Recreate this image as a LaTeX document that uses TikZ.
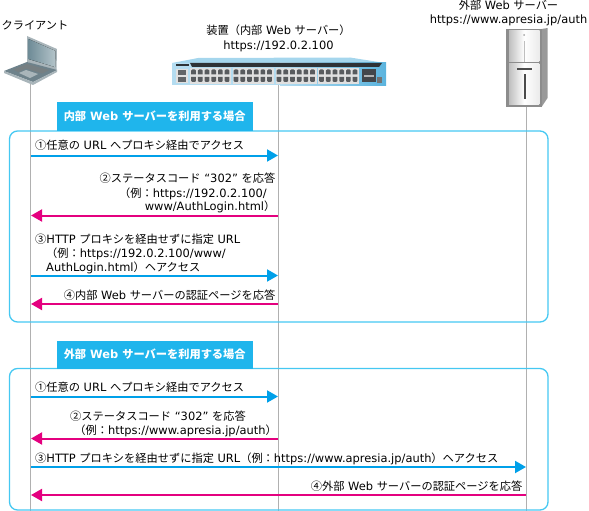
\documentclass[tikz,border=0pt]{standalone}
\usepackage{fontspec}
\setmainfont[Scale=1.04]{DejaVu Sans}
\newfontfamily\jpf[Scale=1.02]{Noto Sans CJK JP}
\newcommand{\J}[1]{{\jpf #1}}
\usetikzlibrary{arrows.meta}
\definecolor{bluearrow}{HTML}{00A0E9}
\definecolor{pinkarrow}{HTML}{E4007F}
\definecolor{framecol}{HTML}{45C8F2}
\definecolor{tagcol}{HTML}{1FB5EC}
\definecolor{lifecol}{HTML}{B0B0B0}
\definecolor{swbody}{HTML}{B4DCF0}
\definecolor{swtop}{HTML}{5BB4DE}
\definecolor{swdark}{HTML}{2E3236}
\definecolor{lapframe}{HTML}{A9B5BA}
\definecolor{lapscreenA}{HTML}{6F8C97}
\definecolor{lapscreenB}{HTML}{B4C4CA}
\definecolor{lapbase}{HTML}{6E828B}
\tikzset{
 txt/.style={inner sep=0pt,font=\fontsize{11}{13}\selectfont,text=black},
 lt/.style={txt,anchor=base west},
 rt/.style={txt,anchor=base east},
 ct/.style={txt,anchor=base},
 tag/.style={fill=tagcol,minimum height=28.5pt,inner sep=0pt,text=white,font=\fontsize{11}{13}\selectfont\bfseries,anchor=north west},
 lifeline/.style={draw=lifecol,line width=1.6pt},
 framebox/.style={draw=framecol,line width=1.3pt,rounded corners=8pt},
 msgb/.style={draw=bluearrow,line width=2pt,-{Triangle[length=11pt,width=12pt]}},
 msgp/.style={draw=pinkarrow,line width=2pt,-{Triangle[length=11pt,width=12pt]}},
}
\begin{document}
\begin{tikzpicture}[x=1pt,y=-1pt]
\useasboundingbox (0,0) rectangle (589,511);
% lifeline ends
\coordinate (cTop) at (30.5,84);
\coordinate (cBot) at (30.5,511);
\coordinate (dTop) at (278.5,85);
\coordinate (dBot) at (278.5,511);
\coordinate (sTop) at (526.5,107);
\coordinate (sBot) at (526.5,511);
\draw[lifeline] (cTop) -- (cBot);
\draw[lifeline] (dTop) -- (dBot);
\draw[lifeline] (sTop) -- (sBot);
% frames
\draw[framebox] (9.5,131) rectangle (548,322);
\draw[framebox] (9.5,368.5) rectangle (548,510);
\node[tag,minimum width=196pt] (tag1) at (56.5,102) {\J{内部} Web \J{サーバーを利用する場合}};
\node[tag,minimum width=196pt,minimum height=28pt] (tag2) at (56.5,340.5) {\J{外部} Web \J{サーバーを利用する場合}};
% laptop
\fill[lapframe] (27,36) -- (57,49) -- (56.5,72) -- (27,62) -- cycle;
\fill[left color=lapscreenA,right color=lapscreenB] (28.5,39) -- (55.5,51) -- (55,67) -- (28.5,59) -- cycle;
\fill[lapbase] (4,71) -- (27,62) -- (57,70) -- (33,82) -- cycle;
\fill[lapframe] (4,71) -- (33,82) -- (57,70) -- (57,72) -- (33,85) -- (4,73) -- cycle;
\fill[lapframe] (19,73) -- (26,70) -- (38,74) -- (30,78) -- cycle;
\fill[lapframe!70!black] (13,69.5) -- (27,64) -- (49,70) -- (42,73.5) -- (26,68.5) -- (18,72) -- cycle;
% switch
\fill[swtop!55!white] (172,63) -- (198,58) -- (350,57.5) -- (385,63) -- cycle;
\fill[swbody] (172,63) rectangle (280,85);
\fill[left color=swbody,right color=swtop] (280,63) rectangle (386,85);
\fill[swdark] (190,63) -- (382,63) -- (379,67) -- (192,67) -- cycle;
\fill[swdark] (176,64.5) rectangle (189,66);
\foreach \gx in {190,232.5,275.5,318}{
  \fill[black!12] (\gx,68.5) rectangle ++(41,15);
  \foreach \i in {0,...,5}{
    \fill[swdark!80] (\gx+1.2+\i*6.7,70.5) -- ++(1.2,-1) -- ++(2.3,0) -- ++(1.2,1) -- ++(0,4) -- ++(-4.7,0) -- cycle;
    \fill[swdark!80] (\gx+1.2+\i*6.7,77) -- ++(4.7,0) -- ++(0,4) -- ++(-1.2,1) -- ++(-2.3,0) -- ++(-1.2,-1) -- cycle;
  }
}
\fill[black!12] (176,69) rectangle (188,83);
\fill[swdark!75] (178,70) rectangle (186,75);
\fill[swdark!75] (178,77) rectangle (186,82);
\fill[swdark!90] (362,69.5) rectangle (376,82.5);
\fill[black!30] (364,75) rectangle (374,77);
\fill[black!55] (377,77) rectangle (382,83);
% server
\fill[black!40] (541.5,29) -- (547.5,28) -- (547.5,98) -- (541.5,107) -- cycle;
\fill[black!45] (506,29) rectangle (541.5,107);
\fill[left color=black!25,right color=black!8,middle color=white] (509,31) rectangle (539.5,62);
\fill[left color=black!25,right color=black!8,middle color=white] (509,63.5) rectangle (539.5,104.5);
\fill[black!35] (524,35) circle (1pt);
\fill[black!25] (523.5,41) rectangle (525,62);
\fill[black!70] (517,68.5) rectangle (532,70.5);
\fill[black!70] (523.5,74) rectangle (525.5,99);
% headers
\node[ct] (client) at (35,29.5) {\J{クライアント}};
\node[ct] (dev1) at (278.5,34.5) {\J{装置（内部} Web \J{サーバー）}};
\node[ct] (dev2) at (278.5,49) {https://192.0.2.100};
\node[ct] (srv1) at (508.5,9.5) {\J{外部} Web \J{サーバー}};
\node[ct] (srv2) at (508.5,23.5) {https://www.apresia.jp/auth};
% upper messages
\coordinate (a1) at (31,155.5); \coordinate (b1) at (278,155.5);
\coordinate (a2) at (31,215.5); \coordinate (b2) at (278,215.5);
\coordinate (a3) at (31,275.5); \coordinate (b3) at (278,275.5);
\coordinate (a4) at (31,304); \coordinate (b4) at (278,304);
\draw[msgb] (a1) -- (b1);
\draw[msgp] (b2) -- (a2);
\draw[msgb] (a3) -- (b3);
\draw[msgp] (b4) -- (a4);
\node[lt] (t1) at (35,149) {\J{①任意の} URL \J{へプロキシ経由でアクセス}};
\node[rt] (t2a) at (275.5,182) {\J{②ステータスコード} “302” \J{を応答}};
\node[rt] (t2b) at (267,197) {\J{（例：}https://192.0.2.100/};
\node[rt] (t2c) at (275.5,210) {www/AuthLogin.html\J{）}};
\node[lt] (t3a) at (35,243) {\J{③}HTTP \J{プロキシを経由せずに指定} URL};
\node[lt] (t3b) at (46,257) {\J{（例：}https://192.0.2.100/www/};
\node[lt] (t3c) at (46,271) {AuthLogin.html\J{）ヘアクセス}};
\node[rt] (t4) at (275.5,299) {\J{④内部} Web \J{サーバーの認証ページを応答}};
% lower messages
\coordinate (a5) at (31,396.5); \coordinate (b5) at (278,396.5);
\coordinate (a6) at (31,438.5); \coordinate (b6) at (278,438.5);
\coordinate (a7) at (31,467); \coordinate (b7) at (526,467);
\coordinate (a8) at (31,495); \coordinate (b8) at (526,495);
\draw[msgb] (a5) -- (b5);
\draw[msgp] (b6) -- (a6);
\draw[msgb] (a7) -- (b7);
\draw[msgp] (b8) -- (a8);
\node[lt] (t5) at (35,391) {\J{①任意の} URL \J{へプロキシ経由でアクセス}};
\node[lt] (t6a) at (70,420) {\J{②ステータスコード} “302” \J{を応答}};
\node[rt] (t6b) at (277,434) {\J{（例：}https://www.apresia.jp/auth\J{）}};
\node[lt] (t7) at (35,462) {\J{③}HTTP \J{プロキシを経由せずに指定} URL\J{（例：}https://www.apresia.jp/auth\J{）ヘアクセス}};
\node[rt] (t8) at (522.5,490) {\J{④外部} Web \J{サーバーの認証ページを応答}};
\end{tikzpicture}
\end{document}
